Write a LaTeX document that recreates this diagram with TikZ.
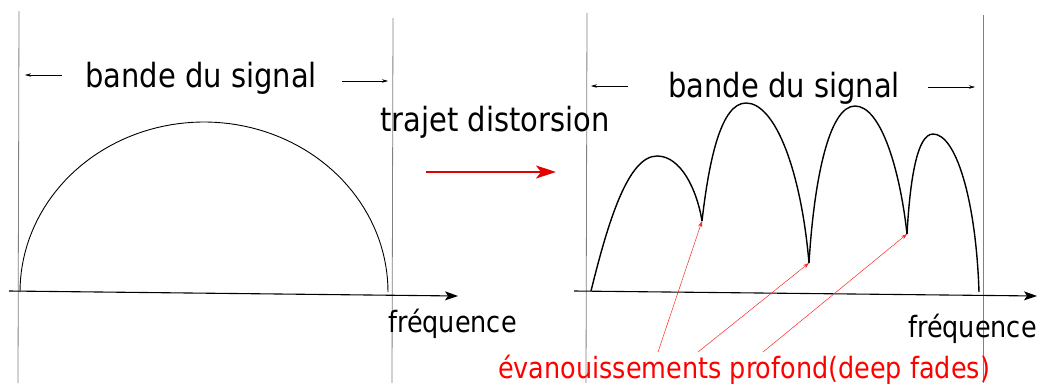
\documentclass[tikz,border=0pt]{standalone}
\usepackage{fontspec}
\setmainfont{DejaVu Sans}
\usetikzlibrary{arrows.meta}
\newcommand\condtxt[1]{\scalebox{0.87}[1]{#1}}
\begin{document}
\begin{tikzpicture}[x=1pt,y=-1pt,
  vline/.style={draw=black!50,line width=0.8pt},
  bigtxt/.style={anchor=base west,inner sep=0pt,font=\fontsize{33.3}{38}\selectfont},
  freqtxt/.style={anchor=base west,inner sep=0pt,font=\fontsize{29.3}{34}\selectfont},
  redtxt/.style={anchor=base west,inner sep=0pt,text=red,font=\fontsize{29.3}{34}\selectfont},
  bandarrow/.style={draw=black,line width=0.6pt,-{Stealth[length=6pt,width=3.5pt]}},
  axis/.style={draw=black,line width=1.1pt,-{Stealth[length=13pt,width=9pt,inset=3pt]}},
  fadearrow/.style={draw=red!85,line width=0.5pt,-{Stealth[length=6pt,width=4pt]}},
  curve/.style={draw=black,line width=1.4pt}]
\useasboundingbox (0,0) rectangle (1039,383);

% vertical band limits
\draw[vline] (19,11) -- (18,383);
\draw[vline] (393,18) -- (392,383);
\draw[vline] (587,13) -- (586,383);
\draw[vline] (983,15) -- (983,383);

% left panel
\node[bigtxt] (b1) at (85,87) {\condtxt{bande du signal}};
\coordinate (l1a) at (62,75); \coordinate (l1b) at (25,75);
\coordinate (r1a) at (342,81); \coordinate (r1b) at (388,81);
\draw[bandarrow] (l1a) -- (l1b);
\draw[bandarrow] (r1a) -- (r1b);
\coordinate (ax1s) at (9,291); \coordinate (ax1e) at (458,296);
\draw[axis] (ax1s) -- (ax1e);
\draw[line width=0.9pt] plot[domain=180:360,samples=80] ({204+184*cos(\x)},{292+170*sin(\x)});
\node[freqtxt] (f1) at (388,332) {\condtxt{fréquence}};

% middle
\node[bigtxt] (traj) at (380,131) {\condtxt{trajet distorsion}};
\coordinate (ma) at (426,172); \coordinate (mb) at (556,172);
\draw[draw=red!90!black,line width=1.3pt,-{Stealth[length=20pt,width=13pt,inset=5pt]}] (ma) -- (mb);

% right panel
\node[bigtxt] (b2) at (668,97) {\condtxt{bande du signal}};
\coordinate (l2a) at (628,86); \coordinate (l2b) at (591,86);
\coordinate (r2a) at (928,87); \coordinate (r2b) at (975,87);
\draw[bandarrow] (l2a) -- (l2b);
\draw[bandarrow] (r2a) -- (r2b);
\coordinate (ax2s) at (574,291); \coordinate (ax2e) at (1037,296);
\draw[axis] (ax2s) -- (ax2e);

\coordinate (s0) at (591,291);
\coordinate (c1) at (702,221);
\coordinate (c2) at (809,263);
\coordinate (c3) at (907,234);
\coordinate (s4) at (979,292);
\draw[curve] (s0) .. controls (608,222) and (628,156) .. (657,156)
  .. controls (681,156) and (697,190) .. (c1);
\draw[curve] (c1) .. controls (709,160) and (721,103) .. (746,103)
  .. controls (775,103) and (801,170) .. (c2);
\draw[curve] (c2) .. controls (814,180) and (829,106) .. (855,106)
  .. controls (881,106) and (900,170) .. (c3);
\draw[curve] (c3) .. controls (910,180) and (917,134) .. (933,134)
  .. controls (956,134) and (976,200) .. (s4);
\node[freqtxt] (f2) at (908,337) {\condtxt{fréquence}};

% deep fades
\node[redtxt] (fades) at (498,378) {\condtxt{évanouissements profond(deep fades)}};
\coordinate (d1) at (658,352);
\coordinate (d2) at (698,352);
\coordinate (d3) at (763,352);
\draw[fadearrow] (d1) -- (c1);
\draw[fadearrow] (d2) -- (c2);
\draw[fadearrow] (d3) -- (c3);
\end{tikzpicture}
\end{document}
